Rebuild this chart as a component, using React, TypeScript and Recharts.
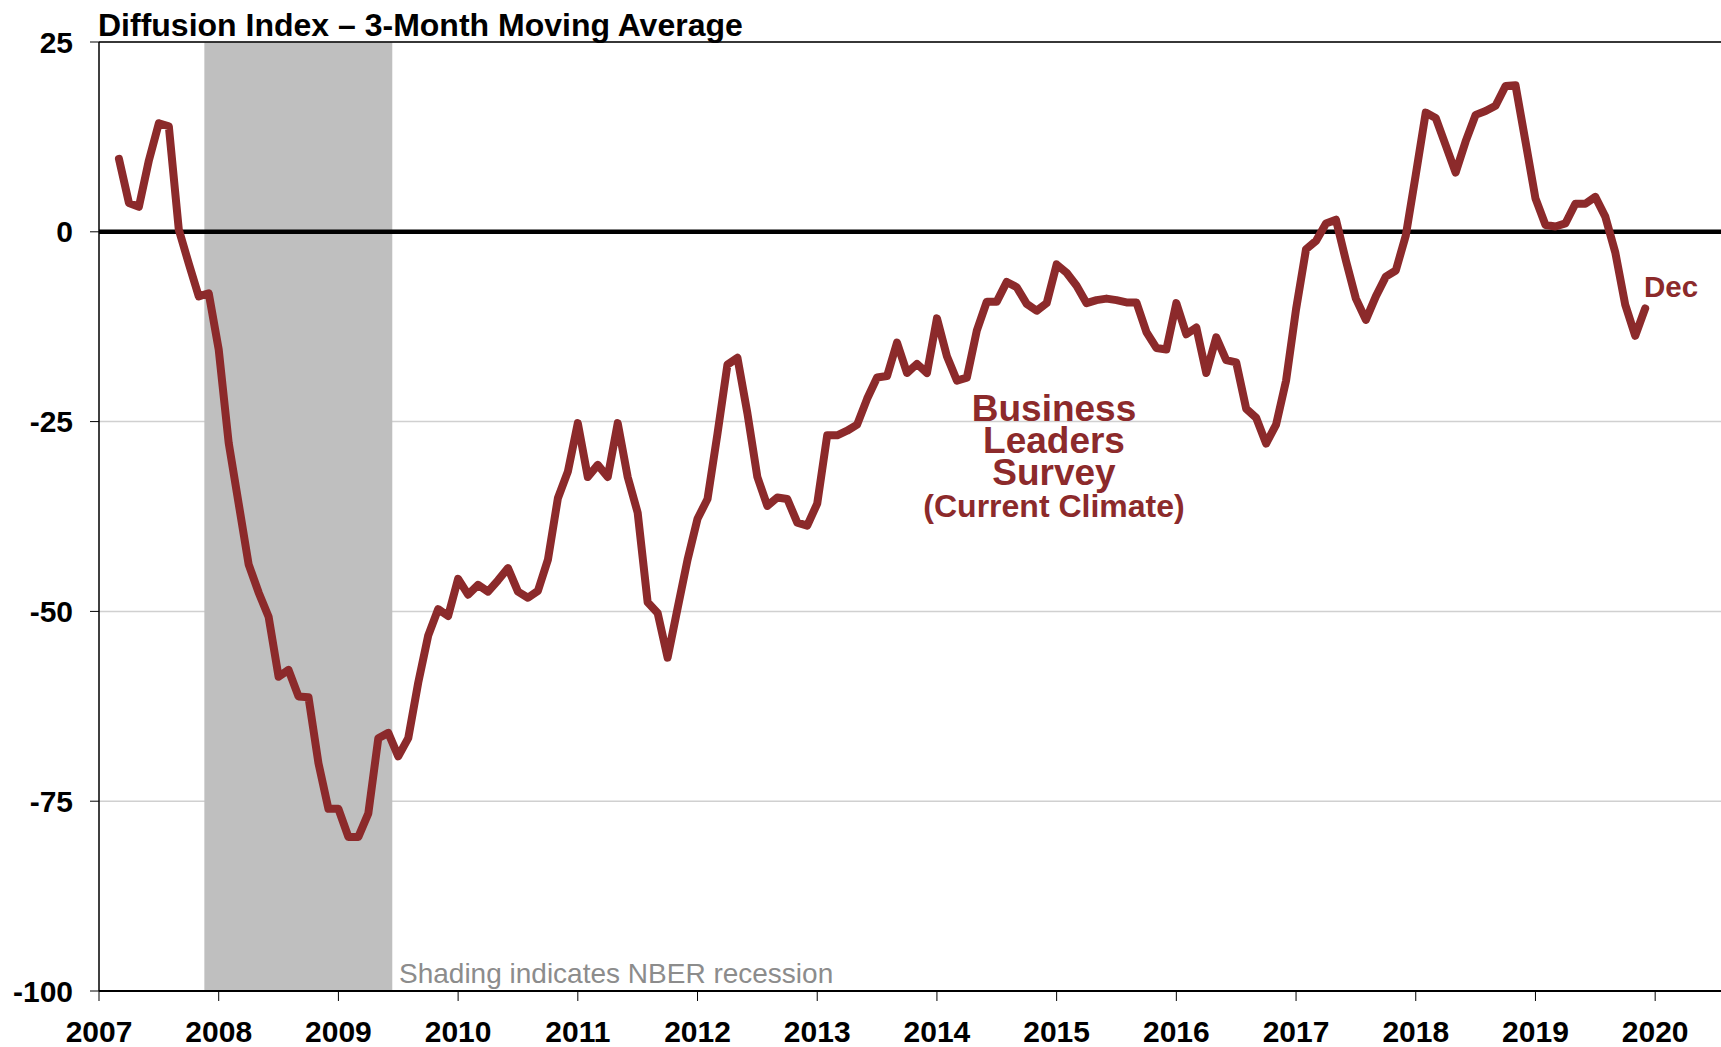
import React from "react"
import {
    LineChart,
    Line,
    XAxis,
    YAxis,
    CartesianGrid,
    ReferenceLine,
    ReferenceArea,
} from "recharts"

// Monthly values, Mar 2007 - Dec 2019
const v2007 = [9.6, 3.8, 3.3, 9.4, 14.3, 13.9, 0.3, -4.2, -8.5, -8.1]
const v2008 = [-15.5, -27.8, -35.8, -43.8, -47.5, -50.7, -58.6, -57.7, -61.2, -61.3, -70, -76]
const v2009 = [-76, -79.7, -79.7, -76.6, -66.7, -66, -69.1, -66.7, -59.4, -53.2, -49.7, -50.6]
const v2010 = [-45.7, -47.8, -46.5, -47.4, -45.9, -44.3, -47.4, -48.2, -47.3, -43.2, -35.1, -31.6]
const v2011 = [-25.2, -32.3, -30.7, -32.3, -25.2, -32.3, -37, -48.8, -50.2, -56.1, -49.6, -43.2]
const v2012 = [-37.8, -35.2, -26.6, -17.5, -16.6, -23.9, -32.3, -36.1, -35, -35.2, -38.3, -38.7]
const v2013 = [-35.8, -26.8, -26.8, -26.2, -25.4, -22, -19.2, -19, -14.6, -18.6, -17.4, -18.6]
const v2014 = [-11.4, -16.4, -19.6, -19.2, -13, -9.2, -9.2, -6.6, -7.3, -9.5, -10.4, -9.4]
const v2015 = [-4.3, -5.4, -7.1, -9.4, -9, -8.8, -9, -9.3, -9.3, -13.2, -15.3, -15.5]
const v2016 = [-9.4, -13.5, -12.6, -18.6, -13.9, -16.9, -17.2, -23.3, -24.5, -27.9, -25.4, -19.6]
const v2017 = [-10.2, -2.3, -1.2, 1.1, 1.6, -3.8, -8.8, -11.6, -8.5, -5.9, -5.1, -0.5]
const v2018 = [7.5, 15.7, 15, 11.4, 7.8, 11.9, 15.4, 15.9, 16.6, 19.2, 19.3, 11.9]
const v2019 = [4.4, 0.9, 0.7, 1.1, 3.7, 3.7, 4.6, 2, -2.7, -9.6, -13.7, -10.1]

const years = [2007, 2008, 2009, 2010, 2011, 2012, 2013, 2014, 2015, 2016, 2017, 2018, 2019, 2020]
const yTicks = [-100, -75, -50, -25, 0, 25]
const recession = { start: 2007.88, end: 2009.45 }

const series = [v2007, v2008, v2009, v2010, v2011, v2012, v2013, v2014, v2015, v2016, v2017, v2018, v2019]

const data = series.flatMap((vals, yi) => {
    const firstMonth = yi === 0 ? 2 : 0
    return vals.map((value, i) => ({
        x: 2007 + yi + (firstMonth + i) / 12,
        value,
    }))
})

const FONT = "'Liberation Sans', Arial, Helvetica, sans-serif"
const RED = "#8C2A2B"

export default function App() {
    return (
        <div style={{ position: "absolute", left: 0, top: 0, width: 1721, height: 1047, fontFamily: FONT, background: "#fff" }}>
            <LineChart
                width={1721}
                height={1047}
                data={data}
                margin={{ top: 42, right: 0, left: 1, bottom: 0 }}
            >
                <CartesianGrid horizontal vertical={false} stroke="#D0D0D0" strokeWidth={1.5} />
                <ReferenceArea
                    x1={recession.start}
                    x2={recession.end}
                    y1={-100}
                    y2={25}
                    fill="#BFBFBF"
                    fillOpacity={1}
                    stroke="none"
                />
                <ReferenceLine y={25} stroke="#000" strokeWidth={1.5} />
                <ReferenceLine y={0} stroke="#000" strokeWidth={4.5} />
                <XAxis
                    type="number"
                    dataKey="x"
                    domain={[2007, 2020.55]}
                    ticks={years}
                    allowDataOverflow
                    height={56}
                    tickSize={10}
                    tickMargin={20}
                    axisLine={{ stroke: "#000", strokeWidth: 2 }}
                    tickLine={{ stroke: "#000", strokeWidth: 1 }}
                    tick={{ fill: "#000", fontSize: 30, fontWeight: 700, fontFamily: FONT }}
                />
                <YAxis
                    type="number"
                    domain={[-100, 25]}
                    ticks={yTicks}
                    width={98}
                    tickSize={9}
                    tickMargin={17}
                    axisLine={{ stroke: "#000", strokeWidth: 1.5 }}
                    tickLine={{ stroke: "#000", strokeWidth: 1 }}
                    tick={{ fill: "#000", fontSize: 30, fontWeight: 700, fontFamily: FONT }}
                />
                <Line
                    type="linear"
                    dataKey="value"
                    stroke={RED}
                    strokeWidth={8}
                    strokeLinejoin="round"
                    strokeLinecap="round"
                    dot={false}
                    activeDot={false}
                    isAnimationActive={false}
                />
            </LineChart>
            <svg
                width={1721}
                height={1047}
                style={{ position: "absolute", left: 0, top: 0, pointerEvents: "none" }}
                fontFamily={FONT}
            >
                <text x={98} y={36} fontSize={32} fontWeight={700} fill="#000">
                    Diffusion Index – 3-Month Moving Average
                </text>
                <text x={1054} y={421} fontSize={37} fontWeight={700} fill={RED} textAnchor="middle">Business</text>
                <text x={1054} y={453} fontSize={37} fontWeight={700} fill={RED} textAnchor="middle">Leaders</text>
                <text x={1054} y={485} fontSize={37} fontWeight={700} fill={RED} textAnchor="middle">Survey</text>
                <text x={1054} y={517} fontSize={32} fontWeight={700} fill={RED} textAnchor="middle">(Current Climate)</text>
                <text x={1644} y={297} fontSize={29.5} fontWeight={700} fill={RED}>Dec</text>
                <text x={399} y={983} fontSize={28} fill="#8C8C8C">Shading indicates NBER recession</text>
            </svg>
        </div>
    )
}
